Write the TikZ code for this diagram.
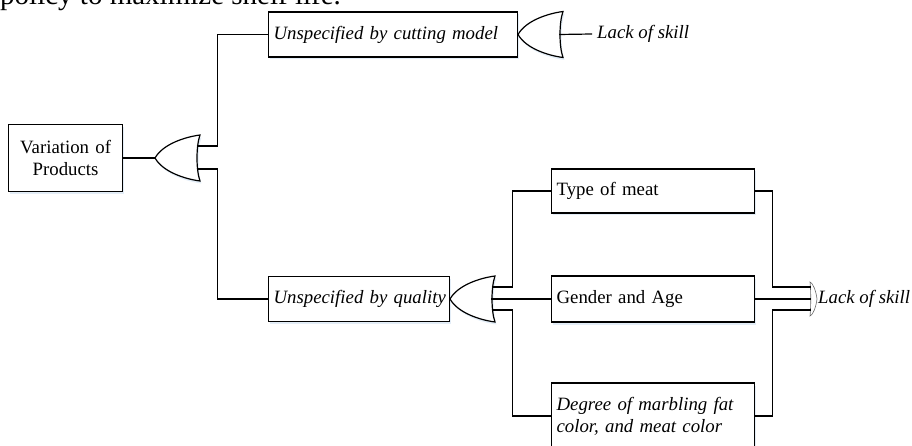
\documentclass[tikz,border=0pt]{standalone}
\usepackage{fontspec}
\setmainfont{Liberation Serif}
\usetikzlibrary{shadows,calc}
\tikzset{
  myshadow/.style={drop shadow={shadow xshift=1.5pt, shadow yshift=-2.5pt, fill=cyan!50!blue, opacity=0.12}},
  box/.style={draw, line width=1.2pt, fill=white, inner xsep=5pt, inner ysep=0pt, align=left,
    font=\fontsize{18.8}{22}\selectfont, myshadow,
    execute at begin node={\hyphenpenalty=10000\exhyphenpenalty=10000}},
  ibox/.style={box, font=\fontsize{18.8}{22}\selectfont\itshape},
  conn/.style={line width=1.2pt},
  gateline/.style={line width=1.2pt, fill=white, myshadow},
  lbl/.style={anchor=west, inner xsep=5pt, inner ysep=0pt, font=\fontsize{18.8}{22}\selectfont\itshape},
  orgate/.pic={
    \draw[gateline] (45,-23) .. controls (30,-21) and (8,-14) .. (0,0)
      .. controls (8,14) and (30,21) .. (45,23)
      .. controls (41,12) and (41,-12) .. cycle;
    \coordinate (-tip) at (0,0);
    \coordinate (-o0) at (41,0);
    \coordinate (-o1) at (41.5,-12);
    \coordinate (-o2) at (41.5,11);
  }
}
\begin{document}
\begin{tikzpicture}[x=1pt,y=-1pt]
\useasboundingbox (0,0) rectangle (912,446);
\clip (0,0) rectangle (912,446);

% text cut off at the top, as in the reference
\node[anchor=base west, inner sep=0pt, font=\fontsize{29}{31}\selectfont] (top) at (0,5) {policy to maximize shelf life.};

% boxes
\node[box, align=center, text width=104pt, minimum height=67pt, anchor=west] (v) at (8,158) {Variation of\\Products};
\node[ibox, text width=239pt, minimum height=45pt, anchor=west] (c) at (268,34.5) {\mbox{Unspecified by cutting model}};
\node[ibox, text width=171pt, minimum height=45pt, anchor=west] (q) at (268,299) {\mbox{Unspecified by quality}};
\node[box, text width=193pt, minimum height=44pt, anchor=west] (t) at (551,191) {Type of meat};
\node[box, text width=193pt, minimum height=46pt, anchor=west] (g) at (551,299) {Gender and Age};
\node[ibox, text width=193pt, minimum height=66pt, anchor=west] (d) at (551,416) {Degree of marbling fat\\color, and meat color};

% gates
\pic (g1) at (155,158) {orgate};
\pic (g2) at (518,34.5) {orgate};
\pic (g3) at (450,299) {orgate};
% tiny gate on the right
\draw[line width=0.6pt, black!60] (810,282) .. controls (813,283) and (816,291) .. (817,299)
   .. controls (816,307) and (813,315) .. (810,316)
   .. controls (811,305) and (811,293) .. cycle;
\coordinate (r1) at (810.5,287);
\coordinate (r2) at (810.5,299);
\coordinate (r3) at (810.5,310);

% labels
\node[lbl] (l1) at (592,34) {Lack of skill};
\node[lbl, inner xsep=1pt] (l2) at (817,299) {Lack of skill};

% connectors
\draw[conn] (v.east) -- (g1-tip);
\draw[conn] (g1-o1) -- ++(21,0) |- (c.west);
\draw[conn] (g1-o2) -- ++(21,0) |- (q.west);
\draw[conn] (q.east) -- (g3-tip);
\draw[conn] (g3-o1) -- ++(21,0) |- (t.west);
\draw[conn] (g3-o0) -- (g.west);
\draw[conn] (g3-o2) -- ++(21,0) |- (d.west);
\draw[conn] (t.east) -- ++(17,0) |- (r1);
\draw[conn] (g.east) -- (r2);
\draw[conn] (d.east) -- ++(17,0) |- (r3);
\draw[conn] (g2-o0) -- (l1.west);
\end{tikzpicture}
\end{document}
